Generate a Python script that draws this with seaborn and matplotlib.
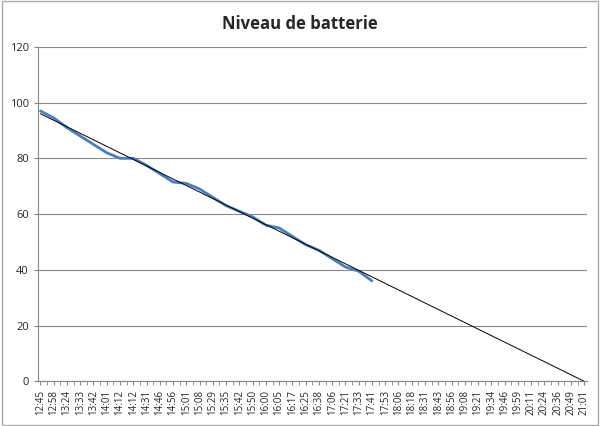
import matplotlib
matplotlib.use("Agg")
import matplotlib.pyplot as plt
import seaborn as sns
import numpy as np

labels = ["12:45","12:58","13:24","13:33","13:42","14:01","14:12","14:12","14:31","14:46",
          "14:56","15:01","15:08","15:29","15:35","15:42","15:50","16:00","16:05","16:17",
          "16:25","16:38","17:06","17:21","17:33","17:41","17:53","18:06","18:18","18:31",
          "18:43","18:56","19:08","19:21","19:34","19:46","19:59","20:11","20:24","20:36",
          "20:49","21:01"]
battery = [97, 94.5, 91, 88, 85, 82, 80, 80, 77.5, 74.5, 71.5, 71, 69, 66, 63, 61, 59, 56,
           55, 52, 49, 47, 44, 41, 39.5, 36]
trend_start, trend_end = 96, 0

sns.set_style("white")
plt.rcParams['font.family'] = ['Open Sans', 'DejaVu Sans']
fig = plt.figure(figsize=(6, 4.26), dpi=100)
ax = fig.add_axes([0.063, 0.105, 0.915, 0.785])
n = len(labels)
sns.lineplot(x=np.arange(len(battery)), y=battery, ax=ax, color="#4a7ebb", lw=2)
sns.lineplot(x=[0, n - 1], y=[trend_start, trend_end], ax=ax, color="black", lw=0.7)
ax.set_xlim(-0.2, n - 1 + 0.2)
ax.set_ylim(0, 120)
ax.set_yticks(range(0, 121, 20))
ax.yaxis.grid(True, color="#888888", lw=0.8)
ax.set_xticks(range(n))
ax.set_xticklabels(labels, rotation=90, fontsize=7)
ax.set_xticks(np.arange(0, n - 1, 0.5), minor=True)
ax.tick_params(axis='x', which='both', direction='out', length=3, color="#888888", bottom=True)
ax.tick_params(axis='y', labelsize=8, length=3, left=True, color="#888888")
for s in ["top", "right"]:
    ax.spines[s].set_visible(False)
for s in ["left", "bottom"]:
    ax.spines[s].set_color("#888888")
fig.suptitle("Niveau de batterie", fontsize=12, fontweight="bold", y=0.965)
fig.patches.append(plt.Rectangle((0.003, 0.003), 0.994, 0.994, transform=fig.transFigure,
                                 fill=False, edgecolor="#aaaaaa", lw=1))
fig.savefig("out.png", dpi=100)
